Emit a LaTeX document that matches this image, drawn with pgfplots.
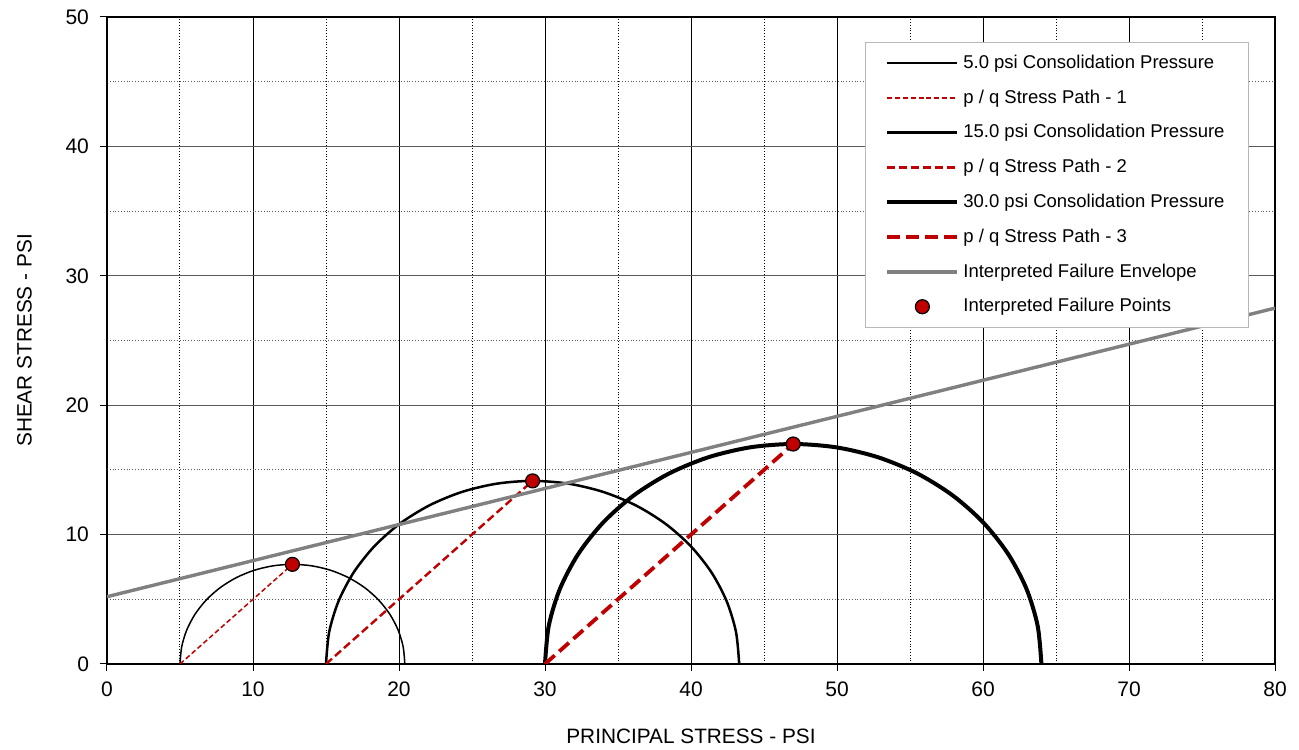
\documentclass[border=0pt]{standalone}
\usepackage{pgfplots}
\pgfplotsset{compat=1.18}
\usepackage{fontspec}
\setmainfont{Liberation Sans}
\usetikzlibrary{calc}
\definecolor{pathred}{HTML}{C00000}
\definecolor{envgray}{HTML}{808080}

\begin{document}
\begin{tikzpicture}
\begin{axis}[
  name=ax,
  scale only axis,
  width=584pt, height=323.5pt,
  xmin=0, xmax=80, ymin=0, ymax=50,
  xtick={0,10,...,80}, ytick={0,10,...,50},
  minor xtick={5,15,...,75}, minor ytick={5,15,...,45},
  tick align=outside, major tick length=3.5pt, minor tick length=0pt,
  tick style={black, line width=0.5pt},
  xtick pos=bottom, ytick pos=left,
  grid=both,
  x grid style={black, line width=0.5pt},
  y grid style={black!65, line width=0.5pt},
  minor grid style={densely dotted, black!30, line width=0.4pt},
  axis line style={black, line width=0.6pt},
  /pgf/number format/assume math mode=true,
  tick label style={font=\fontsize{10.5}{12}\selectfont},
  xticklabel style={yshift=-2pt},
  yticklabel style={xshift=-2pt},
  label style={font=\fontsize{10.4}{12}\selectfont},
  xlabel={PRINCIPAL STRESS - PSI},
  ylabel={SHEAR STRESS - PSI},
  xlabel style={yshift=-9pt},
  ylabel style={yshift=10pt},
  legend cell align=left,
  legend style={at={(0.9777,0.9606)}, anchor=north east,
    draw=black!28, fill=white,
    font=\fontsize{9.25}{10}\selectfont,
    inner xsep=10pt, inner ysep=4pt,
    row sep=5.2pt},
  legend image code/.code={\draw[mark repeat=2,mark phase=2,#1]
    plot coordinates {(0pt,0pt) (17.5pt,0pt) (35pt,0pt)};},
]
% 5.0 psi circle
\addplot[black, line width=0.75pt, smooth] coordinates {
 (20.4,0) (20.283,1.337) (19.936,2.633) (19.368,3.85) (18.598,4.950)
 (17.650,5.898) (16.55,6.668) (15.333,7.236) (14.037,7.583) (12.7,7.7)
 (11.363,7.583) (10.067,7.236) (8.85,6.668) (7.75,5.898) (6.802,4.950)
 (6.032,3.85) (5.464,2.633) (5.117,1.337) (5.0,0)
};
\addlegendentry{5.0 psi Consolidation Pressure}
\addplot[pathred, line width=0.75pt, dash pattern=on 2.5pt off 1.4pt] coordinates {(5,0) (12.7,7.7)};
\addlegendentry{p / q Stress Path - 1}
% 15.0 psi circle
\addplot[black, line width=1.25pt, smooth] coordinates {
 (43.3,0) (43.085,2.456) (42.447,4.839) (41.404,7.075) (39.989,9.096)
 (38.246,10.839) (36.225,12.254) (33.989,13.297) (31.606,13.935) (29.15,14.15)
 (26.694,13.935) (24.311,13.297) (22.075,12.254) (20.054,10.839) (18.311,9.096)
 (16.896,7.075) (15.853,4.839) (15.215,2.456) (15.0,0)
};
\addlegendentry{15.0 psi Consolidation Pressure}
\addplot[pathred, line width=1.2pt, dash pattern=on 4pt off 2pt] coordinates {(15,0) (29.15,14.15)};
\addlegendentry{p / q Stress Path - 2}
% 30.0 psi circle
\addplot[black, line width=2pt, smooth] coordinates {
 (64,0) (63.742,2.951) (62.975,5.814) (61.722,8.5) (60.022,10.928)
 (57.928,13.022) (55.5,14.722) (52.814,15.975) (49.951,16.742) (47,17)
 (44.049,16.742) (41.186,15.975) (38.5,14.722) (36.072,13.022) (33.978,10.928)
 (32.278,8.5) (31.025,5.814) (30.258,2.951) (30,0)
};
\addlegendentry{30.0 psi Consolidation Pressure}
\addplot[pathred, line width=1.9pt, dash pattern=on 6.5pt off 3pt] coordinates {(30,0) (47,17)};
\addlegendentry{p / q Stress Path - 3}
% envelope
\addplot[envgray, line width=1.7pt] coordinates {(0,5.2) (80,27.5)};
\addlegendentry{Interpreted Failure Envelope}
% failure points
\addplot[only marks, mark=*, mark size=3.5pt,
  mark options={fill=pathred, draw=black, line width=0.6pt}] coordinates {
 (12.7,7.7) (29.15,14.15) (47,17)
};
\addlegendentry{Interpreted Failure Points}
\end{axis}
\pgfresetboundingbox
\path ($(ax.south west)+(-53.5pt,-43pt)$) rectangle ($(ax.north east)+(12pt,8.5pt)$);
\end{tikzpicture}
\end{document}
